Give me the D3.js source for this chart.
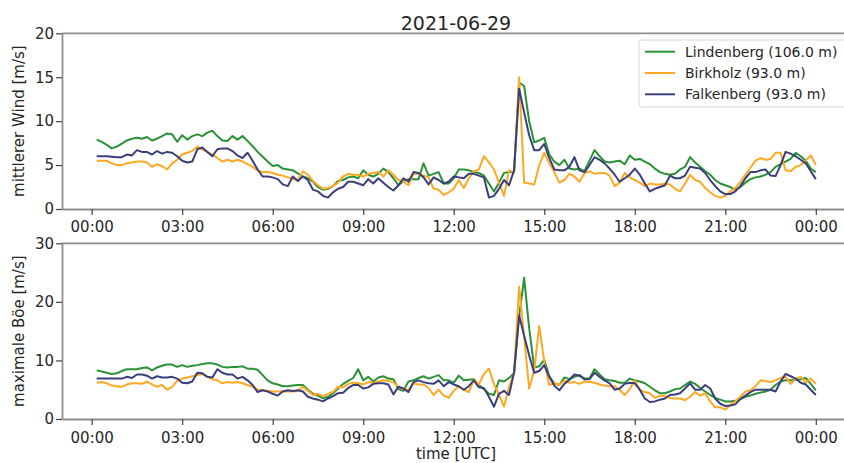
<!DOCTYPE html>
<head>
<meta charset="utf-8">
<script src="https://d3js.org/d3.v7.min.js"></script>
<style>
  body { margin: 0; background: #fff; }
  text { font-family: "DejaVu Sans", sans-serif; fill: #262626; }
</style>
</head>
<body>
<div id="datavis"></div>

<script type="text/javascript">
// 10-minute values, 00:10 ... 24:00 UTC (144 per series)
var stations = ["Lindenberg (106.0 m)", "Birkholz (93.0 m)", "Falkenberg (93.0 m)"];
var colors = ["#2a9136", "#ffa823", "#3a3f7c"];
var hourTicks = ["00:00", "03:00", "06:00", "09:00", "12:00", "15:00", "18:00", "21:00", "00:00"];

// mittlerer Wind [m/s]
var lindMean = [7.9, 7.65, 7.3, 6.9, 7.1, 7.45, 7.8, 8.0, 8.1, 8.0, 8.2, 7.8,
  8.0, 8.3, 8.6, 8.5, 7.65, 8.4, 7.9, 8.3, 8.5, 8.3, 8.7, 8.9,
  8.3, 7.8, 7.75, 8.3, 7.9, 8.3, 7.75, 7.15, 6.5, 5.95, 5.4, 4.9,
  5.0, 4.6, 4.5, 4.4, 4.05, 3.7, 3.5, 3.1, 2.5, 2.2, 2.3, 2.6,
  3.2, 3.3, 3.6, 3.7, 3.5, 4.4, 3.9, 3.7, 4.0, 4.6, 4.2, 3.5,
  2.7, 3.2, 3.4, 3.4, 3.4, 5.2, 3.8, 4.0, 4.2, 2.9, 2.9, 3.5,
  4.5, 4.5, 4.4, 4.2, 4.1, 3.8, 2.9, 2.0, 3.0, 4.1, 4.2, 4.2,
  14.4, 14.0, 10.0, 7.6, 7.8, 8.1, 6.2, 5.4, 5.0, 5.6, 4.6, 4.5,
  4.6, 4.3, 5.5, 6.7, 6.0, 5.4, 5.3, 5.4, 5.5, 5.1, 6.1, 5.6,
  5.7, 5.4, 5.1, 4.6, 4.2, 4.0, 3.9, 4.0, 4.5, 4.8, 5.9, 5.3,
  4.8, 4.3, 3.9, 3.3, 2.9, 2.7, 2.5, 2.2, 2.5, 3.0, 3.4, 3.6,
  3.7, 3.9, 4.2, 4.8, 5.1, 5.4, 5.7, 6.4, 6.0, 5.5, 4.6, 4.2];
var birkMean = [5.5, 5.5, 5.5, 5.2, 5.0, 5.0, 5.2, 5.3, 5.4, 5.4, 5.3, 4.8,
  5.1, 4.9, 4.5, 5.2, 5.6, 6.2, 6.4, 6.6, 7.1, 6.8, 6.5, 6.2,
  5.8, 5.4, 5.6, 5.4, 5.6, 5.4, 5.1, 4.8, 4.4, 4.2, 4.2, 4.1,
  3.9, 3.8, 3.6, 3.4, 3.3, 4.3, 3.9, 3.2, 2.7, 2.3, 2.4, 2.6,
  3.0, 3.7, 4.0, 3.9, 3.9, 3.7, 4.0, 4.1, 4.2, 3.7, 4.4, 3.9,
  3.3, 3.1, 2.7, 4.0, 4.0, 3.8, 3.6, 2.3, 2.2, 1.6, 1.9, 2.3,
  3.3, 2.4, 3.5, 4.3, 4.5, 6.0, 5.3, 4.5, 3.0, 1.5, 4.4, 4.2,
  15.0, 3.0, 2.9, 2.8, 5.0, 6.4, 5.2, 4.2, 3.0, 3.3, 4.0, 3.7,
  3.1, 4.1, 4.3, 4.0, 4.1, 4.1, 3.8, 2.6, 3.0, 4.1, 3.6, 3.3,
  3.0, 2.6, 2.9, 2.8, 2.8, 2.9, 2.8, 2.3, 2.0, 2.9, 3.9, 3.3,
  3.1, 2.4, 1.9, 1.5, 1.3, 1.5, 2.0, 2.4, 3.1, 3.9, 4.7, 5.5,
  5.8, 5.6, 5.7, 6.4, 6.4, 4.4, 4.3, 4.8, 5.0, 5.5, 6.1, 5.0];
var falkMean = [6.0, 6.0, 6.0, 5.95, 5.9, 5.9, 6.2, 6.1, 6.7, 6.5, 6.5, 6.2,
  6.6, 6.3, 6.5, 6.4, 6.0, 5.5, 5.3, 5.4, 6.8, 7.0, 6.5, 6.0,
  6.8, 6.9, 6.9, 6.6, 6.1, 5.8, 6.4, 5.5, 4.5, 3.7, 3.7, 3.6,
  3.4, 2.8, 2.6, 3.7, 3.2, 3.7, 3.3, 2.2, 2.0, 1.5, 1.3, 1.9,
  2.3, 2.5, 3.1, 3.1, 2.9, 2.7, 3.4, 2.9, 3.5, 3.0, 2.5, 2.1,
  2.7, 3.5, 3.1, 4.2, 4.1, 3.6, 2.8, 3.6, 3.3, 2.9, 3.1, 3.7,
  3.6, 3.5, 4.0, 4.0, 3.8, 3.6, 1.3, 1.5, 2.3, 3.3, 2.7, 4.4,
  13.7, 11.0, 8.4, 6.7, 6.7, 7.4, 5.8, 4.5, 4.4, 4.4, 4.8, 5.9,
  4.4, 4.2, 5.0, 5.9, 5.6, 5.2, 4.6, 3.9, 3.1, 3.5, 3.9, 4.6,
  3.9, 2.9, 2.0, 2.3, 2.5, 2.7, 3.8, 3.5, 3.5, 3.8, 4.8, 4.7,
  4.6, 4.1, 3.3, 2.6, 2.0, 1.7, 1.7, 2.0, 2.6, 3.5, 4.2, 4.2,
  4.4, 4.5, 3.8, 3.75, 5.0, 6.5, 6.3, 6.0, 5.6, 5.2, 4.3, 3.4];

// maximale Böe [m/s]
var lindGust = [8.3, 8.1, 7.9, 7.7, 7.8, 8.2, 8.5, 8.5, 8.5, 8.7, 8.8, 8.3,
  8.8, 9.1, 9.3, 9.3, 8.9, 9.2, 8.9, 9.1, 9.2, 9.4, 9.5, 9.5,
  9.3, 8.9, 8.8, 8.9, 8.9, 9.0, 8.6, 8.6, 8.4, 7.5, 6.6, 6.1,
  5.9, 5.6, 5.6, 5.7, 5.8, 5.8, 5.0, 4.3, 4.0, 3.5, 3.8, 4.4,
  5.2, 6.0, 6.5, 7.0, 8.5, 6.6, 7.2, 6.4, 7.1, 7.3, 6.9, 6.8,
  5.1, 4.8, 6.4, 6.6, 7.0, 7.3, 6.9, 7.2, 7.5, 6.6, 6.6, 6.2,
  7.4, 6.6, 6.7, 6.8, 5.8, 5.1, 4.3, 4.1, 6.6, 6.4, 7.0, 7.8,
  17.5, 24.1, 15.5, 8.8, 9.0, 10.1, 7.3, 6.1, 5.8, 7.1, 6.8, 7.2,
  7.5, 6.9, 6.9, 8.5, 7.6, 6.8, 6.6, 6.5, 6.2, 6.2, 6.9, 6.6,
  6.4, 6.1, 5.5, 4.9, 4.4, 4.4, 4.7, 5.1, 5.2, 5.8, 6.4, 6.0,
  5.3, 4.7, 4.1, 3.6, 3.3, 3.0, 3.0, 3.1, 3.4, 3.8, 4.0, 4.3,
  4.5, 4.7, 5.0, 5.8, 6.4, 6.6, 6.6, 6.7, 6.8, 7.0, 6.0, 4.9];
var birkGust = [6.2, 6.3, 6.1, 5.7, 5.6, 5.5, 5.9, 6.1, 6.1, 6.0, 6.4, 5.9,
  5.5, 5.8, 5.0, 5.5, 6.5, 6.9, 7.1, 7.3, 7.5, 7.7, 7.2, 6.8,
  6.6, 6.1, 6.3, 6.2, 6.3, 6.1, 5.8, 5.5, 5.0, 4.9, 4.8, 4.7,
  4.7, 4.7, 4.7, 4.7, 4.8, 5.5, 4.8, 4.1, 4.3, 3.9, 4.3, 4.6,
  5.5, 5.4, 6.0, 6.2, 6.1, 5.9, 6.3, 6.2, 6.4, 6.6, 6.5, 6.3,
  5.4, 5.1, 5.0, 6.1, 5.9, 5.9, 5.3, 4.1, 5.0, 4.0, 3.6, 4.8,
  5.6, 5.0, 4.6, 6.7, 5.9, 7.7, 8.6, 6.0, 4.1, 2.1, 5.5, 7.8,
  22.6, 14.0, 5.2, 8.3, 15.9, 9.8, 5.8, 6.1, 5.8, 6.6, 6.2, 6.3,
  6.0, 6.4, 6.3, 6.2, 5.9, 5.7, 5.6, 5.6, 5.0, 4.1, 5.1, 6.6,
  5.0, 4.6, 4.4, 3.6, 4.0, 3.9, 3.6, 3.5, 3.5, 3.2, 3.8, 4.6,
  4.0, 4.4, 3.0, 2.0, 2.0, 1.6, 2.4, 3.0, 3.8, 4.7, 4.9, 5.6,
  6.6, 6.5, 6.3, 6.6, 7.0, 7.2, 6.0, 6.9, 7.2, 6.2, 6.9, 6.0];
var falkGust = [6.9, 6.9, 6.9, 6.9, 6.9, 6.9, 7.2, 7.0, 7.6, 7.6, 7.4, 6.9,
  7.3, 7.1, 7.1, 7.2, 6.9, 6.2, 6.1, 6.4, 7.9, 7.8, 7.2, 7.1,
  8.5, 7.9, 7.6, 7.6, 6.9, 7.2, 6.6, 5.8, 4.6, 4.9, 4.7, 4.3,
  4.0, 4.7, 4.9, 4.8, 4.9, 4.7, 3.8, 3.5, 3.3, 3.0, 3.5, 3.9,
  4.4, 4.5, 5.3, 5.8, 5.8, 5.2, 5.4, 6.0, 6.1, 6.1, 5.9, 4.2,
  5.5, 5.2, 4.6, 6.3, 6.6, 6.3, 6.1, 6.0, 6.6, 5.6, 6.3, 5.9,
  5.6, 5.0, 5.6, 6.6, 5.4, 5.3, 3.8, 2.1, 4.3, 4.8, 4.1, 8.0,
  17.7, 14.2, 10.9, 7.9, 8.2, 9.2, 7.2, 5.7, 4.9, 6.0, 6.7, 7.6,
  7.4, 6.8, 6.8, 7.9, 7.2, 6.6, 6.1, 5.0, 5.2, 6.0, 6.2, 6.1,
  5.0, 3.5, 2.9, 3.0, 3.3, 3.5, 4.1, 4.2, 4.4, 5.2, 6.1, 5.0,
  5.0, 5.8, 5.2, 3.5, 2.6, 2.2, 2.3, 2.5, 3.4, 4.0, 4.6, 5.0,
  5.0, 5.0, 5.0, 4.7, 6.4, 7.7, 7.3, 6.9, 6.2, 5.9, 5.0, 4.1];

var width = 844, height = 463;
var svg = d3.select("#datavis").append("svg")
            .attr("width", width)
            .attr("height", height);

// time axis (UTC), 10-minute steps
var day0 = Date.UTC(2021, 5, 29, 0, 0);
var times = lindMean.map(function(d, i) { return new Date(day0 + (i + 1) * 600000); });

var x = d3.scaleUtc()
          .domain([new Date(day0 - 59 * 60000), new Date(day0 + (25 * 60 + 10) * 60000)])
          .range([62, 851]);
var tickDates = hourTicks.map(function(d, i) { return new Date(day0 + i * 3 * 3600000); });

var panels = [
  { top: 33.3, bottom: 209, max: 20, ticks: [0, 5, 10, 15, 20], label: "mittlerer Wind [m/s]",
    series: [lindMean, birkMean, falkMean], labelPad: 6 },
  { top: 243.3, bottom: 419, max: 30, ticks: [0, 10, 20, 30], label: "maximale Böe [m/s]",
    series: [lindGust, birkGust, falkGust], labelPad: 7 }
];

panels.forEach(function(p, pi) {
  var y = d3.scaleLinear().domain([0, p.max]).range([p.bottom, p.top]);
  var g = svg.append("g");

  // lines
  p.series.forEach(function(vals, si) {
    g.append("path")
     .datum(vals)
     .attr("fill", "none")
     .attr("stroke", colors[si])
     .attr("stroke-width", 2)
     .attr("stroke-linejoin", "round")
     .attr("d", d3.line()
                  .x(function(d, i) { return x(times[i]); })
                  .y(function(d) { return y(d); }));
  });

  // x axis
  var xa = g.append("g")
            .attr("transform", "translate(0," + p.bottom + ")")
            .call(d3.axisBottom(x).tickValues(tickDates)
                    .tickFormat(function(d, i) { return hourTicks[i]; })
                    .tickSize(6).tickSizeOuter(0).tickPadding(p.labelPad));
  // y axis
  var ya = g.append("g")
            .attr("transform", "translate(62,0)")
            .call(d3.axisLeft(y).tickValues(p.ticks).tickFormat(d3.format("d"))
                    .tickSize(6).tickSizeOuter(0).tickPadding(2));

  [xa, ya].forEach(function(a) {
    a.select(".domain").attr("stroke", "#8e8e8e").attr("stroke-width", 1.8);
    a.selectAll(".tick line").attr("stroke", "#444").attr("stroke-width", 1.2);
    a.selectAll(".tick text").style("font-size", "15px").attr("fill", "#262626");
  });

  // top spine
  g.append("line")
   .attr("x1", 62).attr("x2", 851)
   .attr("y1", p.top).attr("y2", p.top)
   .attr("stroke", "#8e8e8e").attr("stroke-width", 1.8);

  // y label
  g.append("text")
   .attr("transform", "translate(19," + ((p.top + p.bottom) / 2) + ") rotate(-90)")
   .attr("text-anchor", "middle")
   .attr("dominant-baseline", "central")
   .style("font-size", "15px")
   .text(p.label);
});

// title
svg.append("text")
   .attr("x", 456).attr("y", 29.5)
   .attr("text-anchor", "middle")
   .style("font-size", "19px")
   .text("2021-06-29");

// x label
svg.append("text")
   .attr("x", 456).attr("y", 459)
   .attr("text-anchor", "middle")
   .style("font-size", "15px")
   .text("time [UTC]");

// legend
var lg = svg.append("g").attr("transform", "translate(639,40)");
lg.append("rect")
  .attr("width", 212).attr("height", 67).attr("rx", 3)
  .attr("fill", "#fff").attr("fill-opacity", 0.85)
  .attr("stroke", "#d9d9d9");
stations.forEach(function(s, i) {
  var yy = 11.7 + i * 21.3;
  lg.append("line")
    .attr("x1", 6).attr("x2", 36).attr("y1", yy).attr("y2", yy)
    .attr("stroke", colors[i]).attr("stroke-width", 2);
  lg.append("text")
    .attr("x", 46).attr("y", yy)
    .attr("dominant-baseline", "central")
    .style("font-size", "14px")
    .text(s);
});
</script>
</body>
